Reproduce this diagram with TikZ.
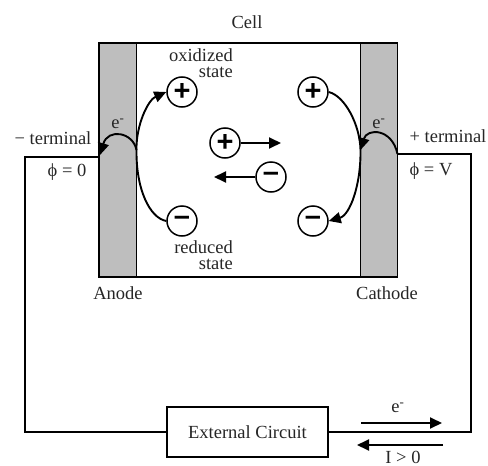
\documentclass[tikz,border=0pt]{standalone}
\usepackage{fontspec}
\setmainfont{Liberation Serif}
\newfontfamily\signfont{Liberation Sans}
\usetikzlibrary{arrows.meta,calc,positioning}
\definecolor{electrode}{HTML}{BEBEBE}

\begin{document}
\begin{tikzpicture}[
  x=1pt, y=-1pt,
  wire/.style={line width=1.7pt},
  flow/.style={line width=1.9pt, -{Triangle[length=12pt,width=11pt]}},
  label/.style={font=\fontsize{18.5}{16}\selectfont, text=black!85, inner sep=0pt, align=center},
  ion/.style={circle, draw, line width=1.5pt, fill=white, minimum size=30pt, inner sep=0pt, font=\signfont\bfseries\fontsize{29}{29}\selectfont}
]
\useasboundingbox (0,0) rectangle (488,466);
% electrodes and cell
\draw[wire, fill=electrode] (99,43) rectangle (136.5,277);
\draw[wire, fill=electrode] (360.5,43) rectangle (397.5,277);
\draw[wire] (99,43) rectangle (397.5,277);
\coordinate (anodeout) at (99,157);
\coordinate (cathodeout) at (397.5,154);
\coordinate (anodein) at (136.5,150);
\coordinate (cathodein) at (360.5,150);
% ions
\node[ion] (oxleft) at (182,92) {+};
\node[ion] (redleft) at (182,221) {\raisebox{1pt}{–}};
\node[ion] (oxright) at (313,92) {+};
\node[ion] (redright) at (313,221) {\raisebox{1pt}{–}};
\node[ion] (oxmid) at (225,143) {+};
\node[ion] (redmid) at (271,177) {\raisebox{1pt}{–}};
\coordinate (oxhead) at (281,143);
\coordinate (redhead) at (214,177);
\draw[flow] (oxmid) -- (oxhead);
\draw[flow] (redmid) -- (redhead);
% reactions at the anode
\draw[line width=1.9pt] (redleft.west) .. controls (150,218) and (136,190) .. (anodein);
\draw[flow] (anodein) .. controls (136,125) and (148,100) .. (oxleft.west);
\draw[flow] (anodein) .. controls (133,132) and (108,128) .. ($(anodeout)+(1,-2)$);
% reactions at the cathode
\draw[line width=1.9pt] (oxright.east) .. controls (345,96) and (360,125) .. (cathodein);
\draw[flow] (cathodein) .. controls (361,185) and (350,215) .. (redright.east);
\draw[flow] (cathodeout) .. controls (392,128) and (367,128) .. (cathodein);
% external circuit
\node[draw, wire, minimum width=161pt, minimum height=50pt, font=\fontsize{18.5}{16}\selectfont, text=black!85] (circuit) at (247.5,432) {External Circuit};
\draw[wire] (anodeout) -- (25,157) |- (circuit.west);
\draw[wire] (cathodeout) -- (471,154) |- (circuit.east);
\coordinate (etail) at (361,423);
\coordinate (ehead) at (442,423);
\coordinate (itail) at (443,445);
\coordinate (ihead) at (357,445);
\draw[flow] (etail) -- (ehead);
\draw[flow] (itail) -- (ihead);
% labels
\node[label, anchor=center] (celllabel) at (247,22) {Cell};
\node[label, anchor=north east, align=right] (oxtext) at (233,48) {oxidized\\state};
\node[label, anchor=north east, align=right] (redtext) at (233,240) {reduced\\state};
\node[label] (anodelabel) at (118,293) {Anode};
\node[label] (cathodelabel) at (387,293) {Cathode};
\node[label] (eleft) at (118,124) {e\textsuperscript{-}};
\node[label] (eright) at (379,124) {e\textsuperscript{-}};
\node[label] (minusterm) at (53,138) {− terminal};
\node[label] (plusterm) at (448,136) {+ terminal};
\node[label] (phileft) at (67,172) {\char"03D5\ = 0};
\node[label] (phiright) at (431,171) {\char"03D5\ = V};
\node[label] (ebottom) at (398,408) {e\textsuperscript{-}};
\node[label] (ibottom) at (403,457) {I > 0};
\end{tikzpicture}
\end{document}
